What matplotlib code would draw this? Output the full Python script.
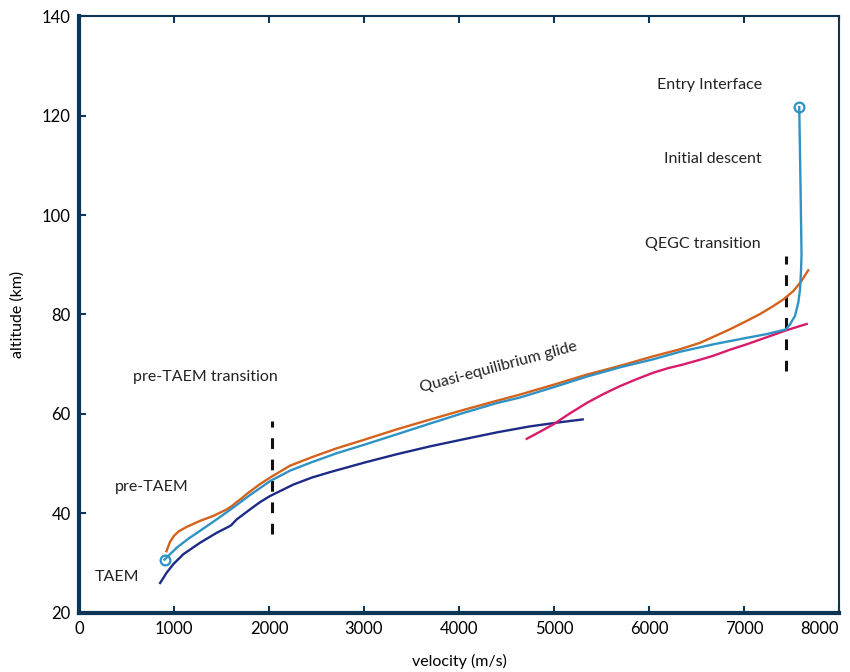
import matplotlib
matplotlib.use("Agg")
import matplotlib.pyplot as plt

plt.rcParams['font.family'] = ['Lato', 'DejaVu Sans']

# descent trajectory (light blue), from TAEM up to entry interface
cyan_v = [900, 1028, 1150, 1274, 1449, 1625, 1800, 2011, 2221, 2450, 2713, 3000, 3344, 3700,
          4046, 4400, 4642, 5000, 5344, 5700, 6046, 6326, 6677, 7028, 7250, 7442, 7484, 7537,
          7572, 7590, 7600, 7606, 7600, 7592, 7582]
cyan_h = [30.7, 33.1, 34.9, 36.5, 38.8, 41.2, 43.7, 46.5, 48.6, 50.3, 52.1, 53.8, 55.9, 58.1,
          60.2, 62.2, 63.3, 65.4, 67.5, 69.4, 71.0, 72.5, 74.0, 75.3, 76.1, 77.0, 78.0, 79.7,
          82.4, 85.0, 88.5, 92.0, 100.0, 110.0, 121.7]

orange_v = [920, 958, 1000, 1050, 1134, 1274, 1414, 1554, 1610, 1660, 1710, 1765, 1905, 2011,
            2221, 2450, 2713, 3000, 3344, 3700, 4046, 4350, 4642, 5000, 5344, 5700, 6046, 6326,
            6537, 6677, 6850, 7028, 7170, 7309, 7420, 7519, 7600, 7677]
orange_h = [32.4, 34.3, 35.5, 36.4, 37.3, 38.5, 39.5, 40.8, 41.5, 42.3, 43.0, 43.9, 45.9, 47.2,
            49.6, 51.3, 53.1, 54.8, 56.9, 58.9, 60.8, 62.4, 63.9, 65.9, 67.9, 69.7, 71.6, 73.0,
            74.3, 75.5, 77.0, 78.7, 80.1, 81.7, 83.1, 84.7, 86.6, 88.9]

navy_v = [853, 870, 923, 993, 1098, 1274, 1449, 1572, 1600, 1630, 1660, 1730, 1800, 1900, 2011,
          2256, 2450, 2642, 3000, 3344, 3700, 4046, 4400, 4747, 5050, 5302]
navy_h = [26.0, 26.5, 28.1, 29.8, 31.8, 34.1, 36.1, 37.3, 37.6, 38.2, 38.8, 39.8, 40.8, 42.2, 43.5,
          45.8, 47.2, 48.3, 50.2, 51.9, 53.5, 54.9, 56.3, 57.5, 58.3, 58.9]

pink_v = [4713, 4850, 4993, 5150, 5344, 5520, 5695, 5870, 6046, 6200, 6350, 6537, 6677, 6850,
          7028, 7250, 7442, 7660]
pink_h = [55.0, 56.4, 57.9, 59.9, 62.2, 64.0, 65.6, 67.0, 68.3, 69.2, 69.9, 70.9, 71.7, 72.9,
          74.0, 75.5, 76.8, 78.1]

# phase boundaries (velocity, altitude range)
pre_taem_v = 2028
pre_taem_h = [35.8, 58.6]
qegc_v = 7442
qegc_h = [68.6, 91.7]

labels = ["Entry Interface", "Initial descent", "QEGC transition",
          "pre-TAEM transition", "pre-TAEM", "TAEM", "Quasi-equilibrium glide"]

spine_col = "#0c3556"
text_col = "#222222"

fig = plt.figure(figsize=(8.5, 6.72), dpi=100)
ax = fig.add_axes([0.093, 0.088, 0.894, 0.888])

ax.plot(orange_v, orange_h, color="#d4621c", lw=1.7, zorder=3)
ax.plot(navy_v, navy_h, color="#1c2b86", lw=1.7, zorder=3)
ax.plot(pink_v, pink_h, color="#d81b6a", lw=1.7, zorder=3)
ax.plot(cyan_v, cyan_h, color="#2e93c4", lw=1.7, zorder=4)
ax.plot([cyan_v[0], cyan_v[-1]], [cyan_h[0], cyan_h[-1]], ls="none", marker="o", ms=7,
        mfc="none", mec="#2e93c4", mew=1.6, zorder=5)

for v, hr in [(pre_taem_v, pre_taem_h), (qegc_v, qegc_h)]:
    ax.plot([v, v], hr, color="#111111", lw=2.2, dashes=(3.5, 3.5), zorder=2)

fs = 11.5
ax.text(7190, 126.2, labels[0], ha="right", va="center", fontsize=fs, color=text_col)
ax.text(7190, 111.2, labels[1], ha="right", va="center", fontsize=fs, color=text_col)
ax.text(7180, 94.1, labels[2], ha="right", va="center", fontsize=fs, color=text_col)
ax.text(565, 67.5, labels[3], ha="left", va="center", fontsize=fs, color=text_col)
ax.text(379, 45.4, labels[4], ha="left", va="center", fontsize=fs, color=text_col)
ax.text(161, 27.3, labels[5], ha="left", va="center", fontsize=fs, color=text_col)
ax.text(4414, 69.4, labels[6], ha="center", va="center", fontsize=fs, color=text_col,
        rotation=15, rotation_mode="anchor")

ax.set_xlim(0, 8000)
ax.set_ylim(20, 140)
ax.set_xticks(range(0, 8001, 1000))
ax.set_yticks(range(20, 141, 20))
ax.tick_params(direction="in", length=5, width=1.5, color=spine_col, top=True, right=False,
               labelsize=12, pad=6)
ax.get_xticklabels()[-1].set_horizontalalignment("right")
for side in ["left", "bottom"]:
    ax.spines[side].set_linewidth(3)
    ax.spines[side].set_color(spine_col)
for side in ["top", "right"]:
    ax.spines[side].set_linewidth(1.5)
    ax.spines[side].set_color(spine_col)

ax.set_xlabel("velocity (m/s)", fontsize=11.5, labelpad=12)
ax.set_ylabel("altitude (km)", fontsize=11.5, labelpad=12)

fig.savefig("out.png", dpi=100)
